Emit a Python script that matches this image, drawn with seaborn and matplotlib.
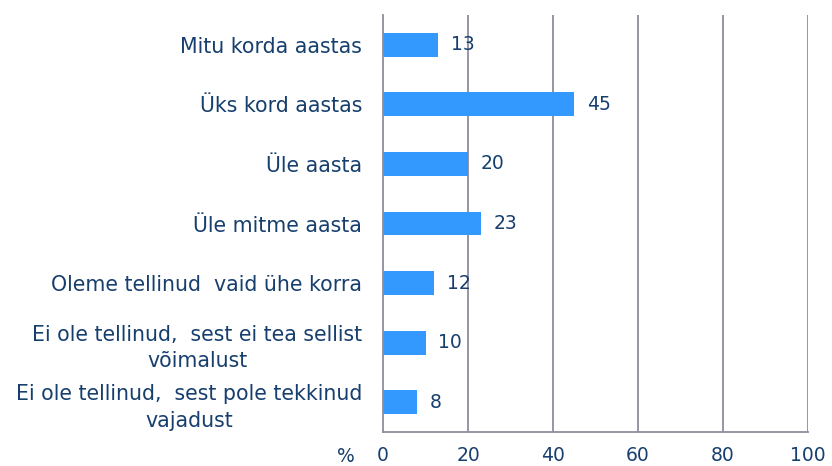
import matplotlib
matplotlib.use("Agg")
import matplotlib.pyplot as plt
import seaborn as sns
import pandas as pd
import numpy as np

categories = [
    "Mitu korda aastas",
    "Üks kord aastas",
    "Üle aasta",
    "Üle mitme aasta",
    "Oleme tellinud  vaid ühe korra",
    "Ei ole tellinud,  sest ei tea sellist\nvõimalust",
    "Ei ole tellinud,  sest pole tekkinud\nvajadust",
]
values = [13, 45, 20, 23, 12, 10, 8]
x_ticks = [0, 20, 40, 60, 80, 100]

sns.set_theme(style="white")
plt.rcParams['font.family'] = ['DejaVu Sans']

TXT = "#173F6E"
GRID = "#8C8C9C"
BAR = "#3399FF"

df = pd.DataFrame({"cat": categories, "val": values})

fig = plt.figure(figsize=(8.32, 4.66), dpi=100)
ax = fig.add_axes([383/832, 1-432/466, (808-383)/832, (432-15)/466])
sns.barplot(data=df, y="cat", x="val", orient="h", color=BAR, width=0.4,
            saturation=1, ax=ax, edgecolor="none")

ax.set_xlim(0, 100)
ax.set_ylim(len(categories)-0.5, -0.5)
ax.set_xticks(x_ticks)
ax.set_xticklabels([str(t) for t in x_ticks], fontsize=13.5, color=TXT)
for t in x_ticks[1:]:
    ax.axvline(t, color=GRID, lw=1.3, zorder=0)

ax.set_yticks(range(len(categories)))
ax.set_yticklabels(categories, fontsize=14.8, color=TXT, multialignment="center",
                   linespacing=1.4)
ax.tick_params(axis="y", length=0, pad=15)
ax.set_yticks(np.arange(-0.5, len(categories), 1.0), minor=True)
ax.tick_params(axis="y", which="minor", length=5, width=1.3, color=GRID, direction="out")
ax.tick_params(axis="x", length=5, width=1.3, color=GRID, direction="out", pad=5)
ax.set_ylabel("")
ax.set_xlabel("")

for s in ["top", "right"]:
    ax.spines[s].set_visible(False)
for s in ["left", "bottom"]:
    ax.spines[s].set_color(GRID)
    ax.spines[s].set_linewidth(1.3)

for i, v in enumerate(values):
    ax.text(v + 3, i, str(v), va="center", ha="left", fontsize=13.5, color=TXT)

fig.text(337/832, 1-456/466, "%", fontsize=13.5, color=TXT, va="center", ha="left")

fig.savefig("out.png", dpi=100)
